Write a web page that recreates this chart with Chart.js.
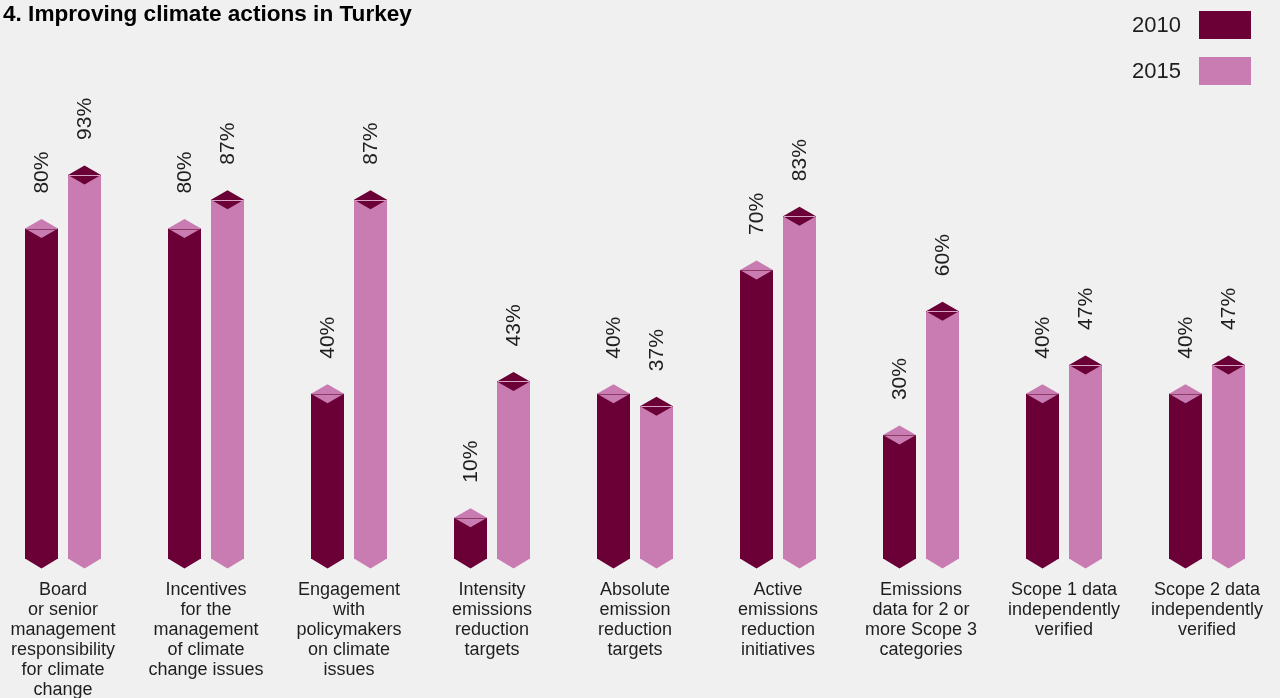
<!DOCTYPE html>
<html>
<head>
<meta charset="utf-8">
<script src="https://cdn.jsdelivr.net/npm/chart.js@4.4.1/dist/chart.umd.min.js"></script>
<style>
  html, body { margin: 0; padding: 0; background: #f0f0f0; }
  #wrap { position: relative; width: 1280px; height: 698px; }
</style>
</head>
<body>
<div id="wrap"><canvas id="climateChart"></canvas></div>
<script>
const title = "4. Improving climate actions in Turkey";
const categories = [
  ["Board", "or senior", "management", "responsibility", "for climate", "change"],
  ["Incentives", "for the", "management", "of climate", "change issues"],
  ["Engagement", "with", "policymakers", "on climate", "issues"],
  ["Intensity", "emissions", "reduction", "targets"],
  ["Absolute", "emission", "reduction", "targets"],
  ["Active", "emissions", "reduction", "initiatives"],
  ["Emissions", "data for 2 or", "more Scope 3", "categories"],
  ["Scope 1 data", "independently", "verified"],
  ["Scope 2 data", "independently", "verified"]
];
const years = ["2010", "2015"];
const values2010 = [80, 80, 40, 10, 40, 70, 30, 40, 40];
const values2015 = [93, 87, 87, 43, 37, 83, 60, 47, 47];

const dark = "#6a0036";
const pink = "#c97cb1";
const capLine = { [dark]: "#d8a2c8", [pink]: "#8e3a66" };
const textColor = "#1e1e1e";
const font = "'Liberation Sans', Arial, Helvetica, sans-serif";

// diamond caps, pointed bottoms, value labels and category text
const shapes = {
  id: "shapes",
  afterDatasetsDraw(chart) {
    const ctx = chart.ctx;
    const x = chart.scales.x;
    chart.data.datasets.forEach((ds, di) => {
      const other = chart.data.datasets[1 - di].backgroundColor;
      chart.getDatasetMeta(di).data.forEach((bar, i) => {
        const half = bar.width / 2;
        const h = 9.5;
        ctx.save();
        // pointed bottom
        ctx.fillStyle = ds.backgroundColor;
        ctx.beginPath();
        ctx.moveTo(bar.x - half, bar.base - 0.5);
        ctx.lineTo(bar.x + half, bar.base - 0.5);
        ctx.lineTo(bar.x, bar.base + h);
        ctx.closePath();
        ctx.fill();
        // diamond cap
        ctx.fillStyle = other;
        ctx.beginPath();
        ctx.moveTo(bar.x - half, bar.y);
        ctx.lineTo(bar.x, bar.y - h);
        ctx.lineTo(bar.x + half, bar.y);
        ctx.lineTo(bar.x, bar.y + h);
        ctx.closePath();
        ctx.fill();
        ctx.strokeStyle = capLine[other];
        ctx.lineWidth = 1;
        ctx.beginPath();
        ctx.moveTo(bar.x - half + 1, Math.round(bar.y) + 0.5);
        ctx.lineTo(bar.x + half - 1, Math.round(bar.y) + 0.5);
        ctx.stroke();
        // rotated value label
        ctx.translate(bar.x + 6.5, bar.y - 35);
        ctx.rotate(-Math.PI / 2);
        ctx.fillStyle = textColor;
        ctx.font = "21px " + font;
        ctx.textAlign = "left";
        ctx.textBaseline = "alphabetic";
        ctx.fillText(ds.data[i].y + "%", 0, 0);
        ctx.restore();
      });
    });

    ctx.save();
    ctx.fillStyle = textColor;
    ctx.font = "18px " + font;
    ctx.textAlign = "center";
    ctx.textBaseline = "middle";
    categories.forEach((lines, i) => {
      const cx = x.getPixelForValue(i);
      lines.forEach((line, j) => ctx.fillText(line, cx, 590 + j * 20));
    });

    // title
    ctx.font = "bold 22.6px " + font;
    ctx.textAlign = "left";
    ctx.textBaseline = "alphabetic";
    ctx.fillStyle = "#000";
    ctx.fillText(title, 3, 21);

    // legend
    ctx.font = "22px " + font;
    ctx.textAlign = "right";
    ctx.textBaseline = "middle";
    chart.data.datasets.forEach((ds, di) => {
      const top = 11 + di * 46;
      ctx.fillStyle = ds.backgroundColor;
      ctx.fillRect(1199, top, 52, 28);
      ctx.fillStyle = textColor;
      ctx.fillText(ds.label, 1181, top + 15);
    });
    ctx.restore();
  }
};

const xMin = -63 / 143;

new Chart(document.getElementById("climateChart"), {
  type: "bar",
  data: {
    datasets: [
      {
        label: years[0],
        data: values2010.map((v, i) => ({ x: i, y: v })),
        backgroundColor: dark
      },
      {
        label: years[1],
        data: values2015.map((v, i) => ({ x: i, y: v })),
        backgroundColor: pink
      }
    ]
  },
  options: {
    responsive: true,
    maintainAspectRatio: false,
    animation: false,
    categoryPercentage: 86 / 143,
    barPercentage: 33 / 43,
    layout: { padding: { top: 0, bottom: 139, left: 0, right: 0 } },
    plugins: {
      legend: { display: false },
      tooltip: { enabled: false }
    },
    scales: {
      x: {
        type: "linear",
        display: false,
        offset: false,
        min: xMin,
        max: xMin + 1280 / 143,
        ticks: { stepSize: 1, includeBounds: false }
      },
      y: {
        display: false,
        min: 0,
        max: 559 / 4.13
      }
    }
  },
  plugins: [shapes]
});
</script>
</body>
</html>
